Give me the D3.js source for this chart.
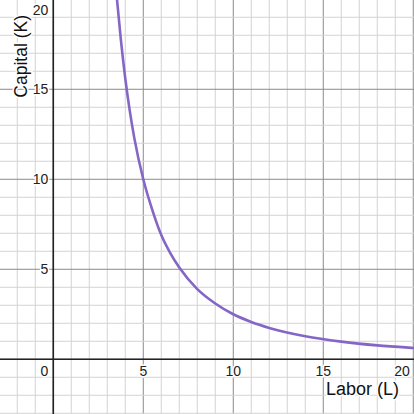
<!DOCTYPE html>
<html>
<head>
<meta charset="utf-8">
<script src="https://cdn.jsdelivr.net/npm/d3@7"></script>
<style>
  body { margin: 0; background: #fff; }
  svg { display: block; font-family: "Liberation Sans", Arial, sans-serif; }
</style>
</head>
<body>
<svg id="chart" width="414" height="414"></svg>
<script>
// isoquant: labor (L) vs capital (K)
var labor   = [3.5, 3.75, 4, 4.25, 4.5, 5, 5.5, 6, 6.5, 7, 8, 9, 10, 11, 12, 14, 16, 18, 20, 21];
var capital = [20.4, 17.8, 15.6, 13.8, 12.3, 10, 8.3, 6.9, 5.9, 5.1, 3.9, 3.1, 2.5, 2.07, 1.74, 1.28, 0.98, 0.77, 0.63, 0.57];

var xTicks = [0, 5, 10, 15, 20];
var yTicks = [5, 10, 15, 20];

var W = 414, H = 414;
var svg = d3.select("#chart");

// 18 px per unit, origin at (53.3, 359.3)
var x = d3.scaleLinear().domain([-2.96, 20.04]).range([0, W]);
var y = d3.scaleLinear().domain([-3.04, 19.96]).range([H, 0]);

var g = svg.append("g");

// grid, major every 5
g.selectAll(".vgrid").data(d3.range(-2, 21)).enter().append("line")
  .attr("x1", d => x(d)).attr("x2", d => x(d)).attr("y1", 0).attr("y2", H)
  .attr("stroke", d => d % 5 == 0 ? "#8a8a8a" : "#d3d3d3").attr("stroke-width", 1);
g.selectAll(".hgrid").data(d3.range(-3, 20)).enter().append("line")
  .attr("y1", d => y(d)).attr("y2", d => y(d)).attr("x1", 0).attr("x2", W)
  .attr("stroke", d => d % 5 == 0 ? "#8a8a8a" : "#d3d3d3").attr("stroke-width", 1);

// axes
g.append("line").attr("x1", 0).attr("x2", W).attr("y1", y(0)).attr("y2", y(0))
  .attr("stroke", "#222").attr("stroke-width", 1.6);
g.append("line").attr("x1", x(0)).attr("x2", x(0)).attr("y1", 0).attr("y2", H)
  .attr("stroke", "#222").attr("stroke-width", 1.6);

// curve
var pts = labor.map((d, i) => [d, capital[i]]);
var line = d3.line().x(d => x(d[0])).y(d => y(d[1])).curve(d3.curveMonotoneX);
svg.append("path").datum(pts)
  .attr("d", line)
  .attr("fill", "none")
  .attr("stroke", "#8466c6")
  .attr("stroke-width", 2.6)
  .attr("stroke-linejoin", "round");

// tick labels with white halo, edge labels pulled inside
function lbl(sel) {
  sel.attr("font-size", 14).attr("fill", "#222")
    .attr("stroke", "#fff").attr("stroke-width", 3).attr("paint-order", "stroke")
    .attr("stroke-linejoin", "round");
}
svg.selectAll(".xt").data(xTicks).enter().append("text")
  .attr("x", d => d == 0 ? x(0) - 9 : Math.min(x(d), W - 12))
  .attr("y", y(0) + 17)
  .attr("text-anchor", "middle")
  .text(d => d)
  .call(lbl);
svg.selectAll(".yt").data(yTicks).enter().append("text")
  .attr("x", x(0) - 5)
  .attr("y", d => Math.max(y(d) + 5, 15))
  .attr("text-anchor", "end")
  .text(d => d)
  .call(lbl);

// axis titles
svg.append("text")
  .attr("x", 399).attr("y", 395)
  .attr("text-anchor", "end")
  .attr("font-size", 18).attr("fill", "#111")
  .attr("stroke", "#fff").attr("stroke-width", 3).attr("paint-order", "stroke")
  .text("Labor (L)");
svg.append("text")
  .attr("transform", "translate(27,15) rotate(-90)")
  .attr("text-anchor", "end")
  .attr("font-size", 17.5).attr("fill", "#111")
  .attr("stroke", "#fff").attr("stroke-width", 3).attr("paint-order", "stroke")
  .text("Capital (K)");
</script>
</body>
</html>
